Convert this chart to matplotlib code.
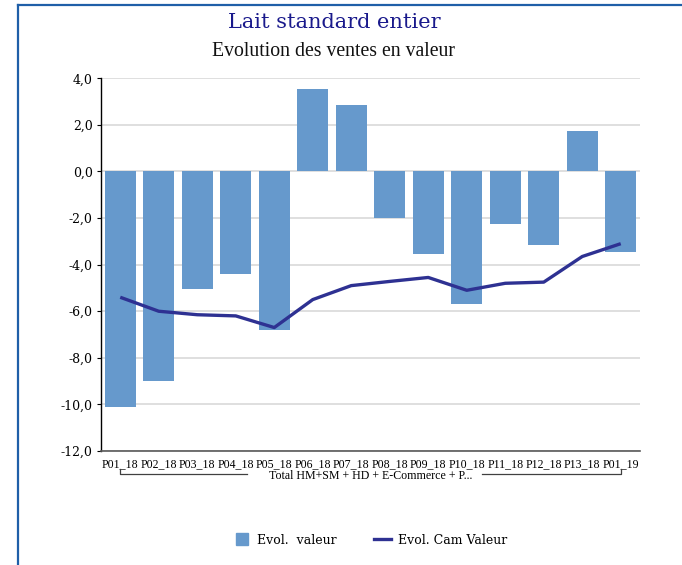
import numpy as np
import matplotlib.pyplot as plt
from matplotlib.lines import Line2D

# periodes et valeurs
periodes = ["P01_18", "P02_18", "P03_18", "P04_18", "P05_18", "P06_18", "P07_18",
            "P08_18", "P09_18", "P10_18", "P11_18", "P12_18", "P13_18", "P01_19"]
evol_valeur = [-10.1, -9.0, -5.05, -4.4, -6.8, 3.55, 2.85,
               -2.0, -3.55, -5.7, -2.25, -3.15, 1.75, -3.45]
evol_cam_valeur = [-5.4, -6.0, -6.15, -6.2, -6.7, -5.5, -4.9,
                   -4.72, -4.55, -5.1, -4.8, -4.75, -3.65, -3.1]
groupe = "Total HM+SM + HD + E-Commerce + P..."
yticks = np.arange(-12, 4.1, 2)

bar_col = "#6699cc"
line_col = "#2e3192"
serif = "DejaVu Serif"
times = "Liberation Serif"

fig = plt.figure(figsize=(6.82, 5.65), dpi=100)
ax = fig.add_axes([101 / 682, 1 - 451 / 565, (640 - 101) / 682, (451 - 78.3) / 565])

x = np.arange(len(periodes))
ax.bar(x, evol_valeur, width=0.8, color=bar_col, zorder=2)
ax.plot(x, evol_cam_valeur, color=line_col, lw=2.4, zorder=3,
        solid_capstyle="butt")

ax.set_xlim(-0.5, len(periodes) - 0.5)
ax.set_ylim(-12, 4)
ax.set_yticks(yticks)
ax.set_yticklabels([f"{v:.1f}".replace(".", ",") for v in yticks],
                   fontfamily=serif, fontsize=9)
ax.yaxis.grid(True, color="#d9d9d9", lw=1.2, zorder=0)
ax.set_axisbelow(True)
ax.tick_params(axis="y", length=3, width=0.8, pad=3)
ax.tick_params(axis="x", length=0, pad=5)
ax.set_xticks(x)
ax.set_xticklabels(periodes, fontfamily=times, fontsize=8.6)

for s in ["top", "right"]:
    ax.spines[s].set_visible(False)
ax.spines["left"].set_color("#000000")
ax.spines["left"].set_linewidth(1.0)
ax.spines["bottom"].set_color("#595959")
ax.spines["bottom"].set_linewidth(1.2)

# accolade du groupe sous les periodes
tr = ax.get_xaxis_transform()
yb, yt = -0.062, -0.047
ax.plot([0, 0, 3.3], [yt, yb, yb], transform=tr, color="#404040", lw=0.9, clip_on=False)
ax.plot([9.4, 13, 13], [yb, yb, yt], transform=tr, color="#404040", lw=0.9, clip_on=False)
ax.text(6.5, yb - 0.004, groupe, transform=tr, ha="center", va="center",
        fontfamily=times, fontsize=8.6)

fig.text(334 / 682, 1 - 22 / 565, "Lait standard entier", ha="center", va="center",
         fontfamily=serif, fontsize=15, color="#1a1a8c")
fig.text(334 / 682, 1 - 52 / 565, "Evolution des ventes en valeur", ha="center", va="center",
         fontfamily=times, fontsize=14.2, color="#111111")

handles = [Line2D([], [], marker="s", ls="none", markersize=8, color=bar_col),
           Line2D([], [], color=line_col, lw=2.4)]
fig.legend(handles, ["Evol.  valeur", "Evol. Cam Valeur"], loc="center",
           bbox_to_anchor=(370 / 682, 1 - 540 / 565), ncol=2, frameon=False,
           prop={"family": serif, "size": 9}, handlelength=1.4,
           columnspacing=3.0, handletextpad=0.5)

# cadre bleu en haut et a gauche
fig.add_artist(Line2D([18 / 682, 18 / 682], [0, 1 - 5 / 565], color="#1f5fa8", lw=1.6))
fig.add_artist(Line2D([18 / 682, 1], [1 - 5 / 565, 1 - 5 / 565], color="#1f5fa8", lw=1.6))

fig.savefig("out.png", dpi=100)
